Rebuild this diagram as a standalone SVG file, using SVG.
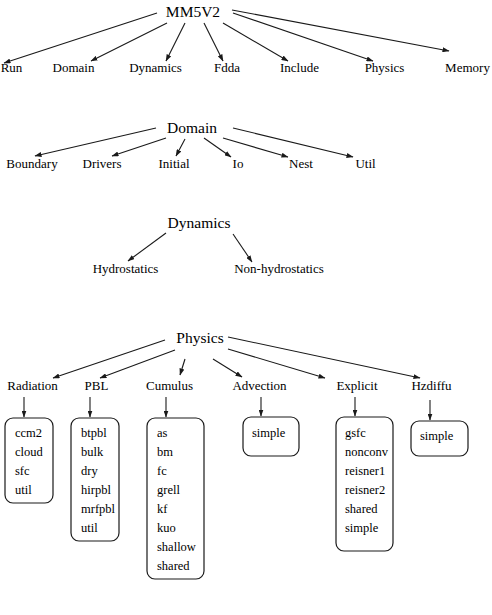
<svg xmlns="http://www.w3.org/2000/svg" width="492" height="615" viewBox="0 0 492 615">
<style>
.t{font-family:"Liberation Serif","Times New Roman",serif;fill:#000;text-anchor:middle}
.h{font-size:15.5px}
.l{font-size:13px}
.i{font-family:"Liberation Serif","Times New Roman",serif;fill:#000;font-size:12.5px}
.e{stroke:#1a1a1a;stroke-width:1.1;fill:none;marker-end:url(#ah)}
.b{fill:#fff;stroke:#1a1a1a;stroke-width:1.2}
</style>
<defs>
<marker id="ah" markerUnits="userSpaceOnUse" markerWidth="7" markerHeight="5" refX="6.5" refY="2.5" orient="auto">
<path d="M0,0 L7,2.5 L0,5 z" fill="#1a1a1a"/>
</marker>
</defs>
<rect width="492" height="615" fill="#fff"/>
<g id="connectors">
<line class="e" x1="157" y1="13" x2="4" y2="63"/>
<line class="e" x1="167" y1="23" x2="91" y2="61"/>
<line class="e" x1="185" y1="23" x2="166" y2="61"/>
<line class="e" x1="204" y1="23" x2="223" y2="61"/>
<line class="e" x1="223" y1="23" x2="288" y2="61"/>
<line class="e" x1="233" y1="13" x2="373" y2="61"/>
<line class="e" x1="232" y1="10" x2="449" y2="51"/>
<line class="e" x1="156" y1="128" x2="35" y2="156"/>
<line class="e" x1="166" y1="138" x2="112" y2="156"/>
<line class="e" x1="185" y1="139" x2="176" y2="156"/>
<line class="e" x1="204" y1="138" x2="231" y2="157"/>
<line class="e" x1="223" y1="138" x2="288" y2="157"/>
<line class="e" x1="233" y1="128" x2="353" y2="157"/>
<line class="e" x1="166" y1="233" x2="128" y2="261"/>
<line class="e" x1="233" y1="234" x2="252" y2="262"/>
<line class="e" x1="165" y1="340" x2="53" y2="378"/>
<line class="e" x1="175" y1="350" x2="100" y2="378"/>
<line class="e" x1="185" y1="359" x2="180" y2="375"/>
<line class="e" x1="213" y1="359" x2="242" y2="377"/>
<line class="e" x1="228" y1="349" x2="325" y2="378"/>
<line class="e" x1="228" y1="337" x2="420" y2="378"/>
<line class="e" x1="24" y1="397" x2="24" y2="417"/>
<line class="e" x1="90" y1="397" x2="90" y2="417"/>
<line class="e" x1="166" y1="397" x2="166" y2="417"/>
<line class="e" x1="261" y1="397" x2="261" y2="416"/>
<line class="e" x1="355" y1="397" x2="355" y2="416"/>
<line class="e" x1="430" y1="400" x2="430" y2="420"/>
</g>
<g id="MM5V2"><text class="t h" x="193" y="17">MM5V2</text></g>
<g id="Run"><text class="t l" x="11.5" y="72">Run</text></g>
<g id="Domain"><text class="t l" x="73.5" y="72">Domain</text></g>
<g id="Dynamics"><text class="t l" x="155.5" y="72">Dynamics</text></g>
<g id="Fdda"><text class="t l" x="227" y="72">Fdda</text></g>
<g id="Include"><text class="t l" x="299.5" y="72">Include</text></g>
<g id="Physics"><text class="t l" x="384.5" y="72">Physics</text></g>
<g id="Memory"><text class="t l" x="467.5" y="72">Memory</text></g>

<g id="DomainTitle"><text class="t h" x="192" y="133">Domain</text></g>
<g id="Boundary"><text class="t l" x="32" y="168">Boundary</text></g>
<g id="Drivers"><text class="t l" x="102" y="168">Drivers</text></g>
<g id="Initial"><text class="t l" x="174" y="168">Initial</text></g>
<g id="Io"><text class="t l" x="238" y="168">Io</text></g>
<g id="Nest"><text class="t l" x="301" y="168">Nest</text></g>
<g id="Util"><text class="t l" x="365.5" y="168">Util</text></g>

<g id="DynamicsTitle"><text class="t h" x="199" y="228">Dynamics</text></g>
<g id="Hydrostatics"><text class="t l" x="125.5" y="273">Hydrostatics</text></g>
<g id="NonHydrostatics"><text class="t l" x="279" y="273">Non-hydrostatics</text></g>

<g id="PhysicsTitle"><text class="t h" x="200" y="343">Physics</text></g>
<g id="Radiation"><text class="t l" x="32.5" y="390">Radiation</text></g>
<g id="PBL"><text class="t l" x="96.5" y="390">PBL</text></g>
<g id="Cumulus"><text class="t l" x="169.5" y="390">Cumulus</text></g>
<g id="Advection"><text class="t l" x="259.5" y="390">Advection</text></g>
<g id="Explicit"><text class="t l" x="357" y="390">Explicit</text></g>
<g id="Hzdiffu"><text class="t l" x="431.5" y="390">Hzdiffu</text></g>

<g id="RadiationBox">
<rect class="b" x="5" y="418" width="48" height="85" rx="8"/>
<text class="i" x="15" y="437">ccm2</text>
<text class="i" x="15" y="456">cloud</text>
<text class="i" x="15" y="475">sfc</text>
<text class="i" x="15" y="494">util</text>
</g>
<g id="PBLBox">
<rect class="b" x="71" y="418" width="48" height="123" rx="8"/>
<text class="i" x="81" y="437">btpbl</text>
<text class="i" x="81" y="456">bulk</text>
<text class="i" x="81" y="475">dry</text>
<text class="i" x="81" y="494">hirpbl</text>
<text class="i" x="81" y="513">mrfpbl</text>
<text class="i" x="81" y="532">util</text>
</g>
<g id="CumulusBox">
<rect class="b" x="147" y="418" width="57" height="161" rx="8"/>
<text class="i" x="157" y="437">as</text>
<text class="i" x="157" y="456">bm</text>
<text class="i" x="157" y="475">fc</text>
<text class="i" x="157" y="494">grell</text>
<text class="i" x="157" y="513">kf</text>
<text class="i" x="157" y="532">kuo</text>
<text class="i" x="157" y="551">shallow</text>
<text class="i" x="157" y="570">shared</text>
</g>
<g id="AdvectionBox">
<rect class="b" x="243" y="417" width="56" height="39" rx="8"/>
<text class="i" x="252" y="437">simple</text>
</g>
<g id="ExplicitBox">
<rect class="b" x="336" y="417" width="57" height="134" rx="8"/>
<text class="i" x="345" y="437">gsfc</text>
<text class="i" x="345" y="456">nonconv</text>
<text class="i" x="345" y="475">reisner1</text>
<text class="i" x="345" y="494">reisner2</text>
<text class="i" x="345" y="513">shared</text>
<text class="i" x="345" y="532">simple</text>
</g>
<g id="HzdiffuBox">
<rect class="b" x="411" y="421" width="57" height="35" rx="8"/>
<text class="i" x="420" y="440">simple</text>
</g>
</svg>
